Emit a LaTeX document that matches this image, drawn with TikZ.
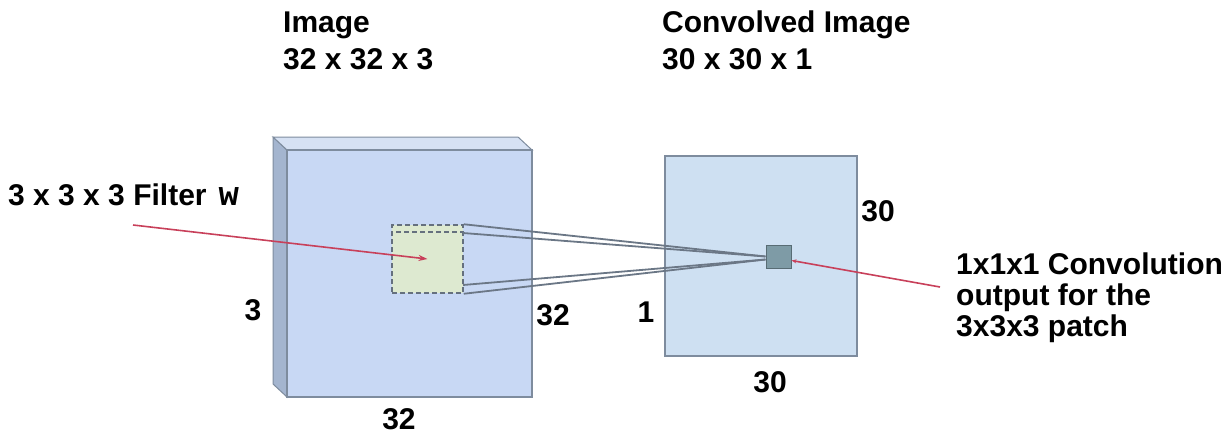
\documentclass[tikz,border=0pt]{standalone}
\usepackage{fontspec}
\setmainfont{Liberation Sans}
\newfontfamily\wfont{Liberation Mono}[BoldFont={Liberation Mono Bold}]
\usetikzlibrary{positioning,arrows.meta}

\definecolor{frontblue}{HTML}{C8D8F4}
\definecolor{sideblue}{HTML}{A4B5CF}
\definecolor{topblue}{HTML}{D6E1F3}
\definecolor{convblue}{HTML}{CEE0F2}
\definecolor{edgegray}{HTML}{7E8C9E}
\definecolor{patchgreen}{HTML}{DDE9D0}
\definecolor{cellteal}{HTML}{7E9BA6}
\definecolor{pointred}{HTML}{C8405A}

\begin{document}
\begin{tikzpicture}[x=1pt, y=-1pt,
    txt/.style={font=\bfseries\fontsize{30}{31}\selectfont, inner sep=0pt},
    convbox/.style={rectangle, draw=edgegray, fill=convblue, line width=1.2pt, minimum width=192pt, minimum height=200pt},
    patchbox/.style={rectangle, draw=edgegray!80!black, fill=patchgreen, dashed, dash pattern=on 5pt off 3pt, line width=1.5pt, minimum width=71pt, minimum height=68pt},
    cellbox/.style={rectangle, draw=cellteal!70!black, fill=cellteal, line width=1pt, minimum width=25pt, minimum height=23pt},
    ray/.style={draw=edgegray!85!black, line width=1.8pt},
    pointer/.style={draw=pointred, line width=1.6pt}]
  \useasboundingbox (0,0) rectangle (1229,436);

  % input image volume
  \filldraw[fill=sideblue, draw=edgegray, line width=1pt] (273,137) -- (287,150) -- (287,397) -- (273,384) -- cycle;
  \filldraw[fill=topblue, draw=edgegray, line width=1pt] (273,137) -- (518,137) -- (532,150) -- (287,150) -- cycle;
  \filldraw[fill=frontblue, draw=edgegray, line width=1.2pt] (287,150) rectangle (532,397);

  % output map
  \node[convbox] (conv) at (761,256) {};

  % filter patch and its output cell
  \node[patchbox] (patch) at (427.5,259) {};
  \draw[edgegray!80!black, dashed, dash pattern=on 5pt off 3pt, line width=1.5pt] (396,232) -- (patch.east |- 0,232);
  \node[cellbox] (cell) at (778.5,256.5) {};

  \coordinate (patchtop) at (463,233);
  \coordinate (patchlow) at (463,285);
  \draw[ray] (patch.north east) -- (cell.west);
  \draw[ray] (patchtop) -- (cell.west);
  \draw[ray] (patchlow) -- ([yshift=-3pt]cell.west);
  \draw[ray] (patch.south east) -- ([yshift=-3pt]cell.west);

  % titles
  \node[txt, anchor=base west] (imgname) at (283,33) {Image};
  \node[txt, anchor=base west] (imgsize) at (283,70) {32 x 32 x 3};
  \node[txt, anchor=base west] (convname) at (662,33) {Convolved Image};
  \node[txt, anchor=base west] (convsize) at (662,70) {30 x 30 x 1};

  % dimensions
  \node[txt] (imgdepth) at (253,310) {3};
  \node[txt] (imgheight) at (553,315) {32};
  \node[txt] (imgwidth) at (399,419) {32};
  \node[txt] (convdepth) at (646,312) {1};
  \node[txt] (convheight) at (878,211) {30};
  \node[txt] (convwidth) at (770,382) {30};

  % pointers
  \node[txt, anchor=base west] (filterlbl) at (8,205) {3 x 3 x 3 Filter\hspace{12pt}{\wfont\bfseries\fontsize{34}{34}\selectfont w}};
  \node[txt, anchor=north west, align=left] (celllbl) at (956,253) {1x1x1 Convolution\\output for the\\3x3x3 patch};
  \coordinate (filtertail) at (133,225);
  \coordinate (celltail) at (940,287);
  \draw[pointer, -{Stealth[length=9pt, width=6pt, fill=pointred!60!black]}] (filtertail) -- (patch.center);
  \draw[pointer, -{Stealth[length=5pt, width=4pt]}] (celltail) -- ([yshift=-4pt]cell.east);
\end{tikzpicture}
\end{document}
